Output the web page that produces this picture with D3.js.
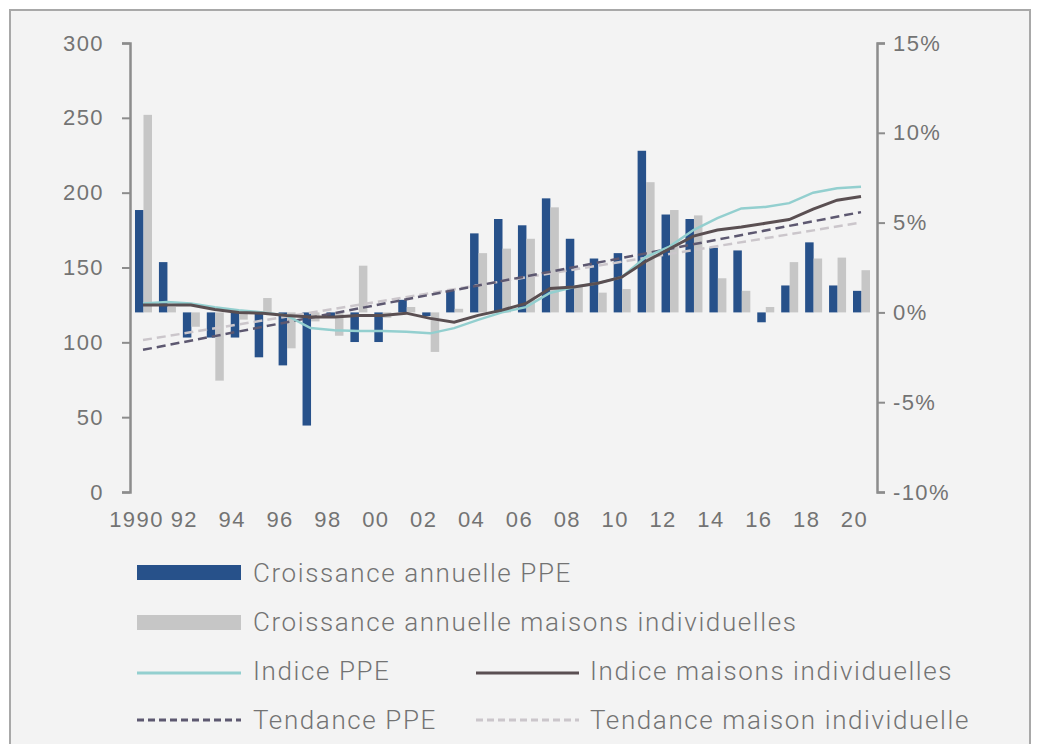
<!DOCTYPE html>
<html><head><meta charset="utf-8">
<script src="https://cdn.jsdelivr.net/npm/d3@7"></script>
<style>
html,body{margin:0;padding:0;background:#fff;}
svg{display:block;font-family:Roboto,"Open Sans",sans-serif;}
</style></head>
<body>
<svg id="chart" width="1046" height="744"></svg>
<script>
const years = [1990,1991,1992,1993,1994,1995,1996,1997,1998,1999,2000,2001,2002,2003,2004,2005,2006,2007,2008,2009,2010,2011,2012,2013,2014,2015,2016,2017,2018,2019,2020];
const croissancePPE = [5.7,2.8,-1.4,-1.4,-1.4,-2.5,-2.95,-6.3,-0.3,-1.65,-1.65,0.7,-0.2,1.2,4.4,5.2,4.85,6.35,4.1,3.0,3.3,9.0,5.45,5.2,3.6,3.45,-0.55,1.5,3.9,1.5,1.2];
const croissanceMaisons = [11.0,0.3,-0.8,-3.8,-0.4,0.8,-2.0,-0.5,-1.3,2.6,-0.3,0.3,-2.2,0.2,3.3,3.55,4.1,5.85,1.5,1.1,1.3,7.25,5.7,5.4,1.9,1.2,0.3,2.8,3.0,3.05,2.35];
const indicePPE = [126,127,126,123.5,121.5,120,118,109.5,108,107.5,107.5,107,106,109.5,115,120,123.5,133,137,139.5,143.5,157,164,175,183,189.5,190.5,193,200,203,204];
const indiceMaisons = [125,125,125,122,120,119.5,118,117,117,118,118,119.5,116,113.5,118,121.5,126,136,137,139.5,143.5,154,162.5,171,175,177,179.5,182,189,195,197.5];
const trendYears = [1990,2020];
const tendancePPE = [95,187];
const tendanceMaisons = [101.5,180];
const leftTicks = [0,50,100,150,200,250,300];
const rightTicks = [-10,-5,0,5,10,15];
const xTickYears = [1990,1992,1994,1996,1998,2000,2002,2004,2006,2008,2010,2012,2014,2016,2018,2020];
const xTickLabels = ["1990","92","94","96","98","00","02","04","06","08","10","12","14","16","18","20"];
const legendLabels = ["Croissance annuelle PPE","Croissance annuelle maisons individuelles","Indice PPE","Indice maisons individuelles","Tendance PPE","Tendance maison individuelle"];

const C = {ppeBar:"#27518a", maisBar:"#c6c6c6", ppeLine:"#93cfcf", maisLine:"#5a4f52", trendPPE:"#5d5870", trendMais:"#cbc6cb", axis:"#8c8c8c", text:"#737373"};

const svg = d3.select("#chart");
svg.append("rect").attr("x",10).attr("y",10).attr("width",1020).attr("height",760)
  .attr("fill","#f3f3f3").attr("stroke","#a8a8a8").attr("stroke-width",2);

const x = d3.scaleLinear().domain([1990,2020]).range([139,857]);
const yL = d3.scaleLinear().domain([0,300]).range([492,43]);
const yR = d3.scaleLinear().domain([-10,15]).range([492,43]);

// bars
const g = svg.append("g");
g.selectAll("rect.ppe").data(years).join("rect")
  .attr("x", d => x(d)-4).attr("width", 8.5)
  .attr("y", (d,i) => yR(Math.max(0,croissancePPE[i])))
  .attr("height", (d,i) => Math.abs(yR(croissancePPE[i]) - yR(0)))
  .attr("fill", C.ppeBar);
g.selectAll("rect.mais").data(years).join("rect")
  .attr("x", d => x(d)+4.5).attr("width", 8.5)
  .attr("y", (d,i) => yR(Math.max(0,croissanceMaisons[i])))
  .attr("height", (d,i) => Math.abs(yR(croissanceMaisons[i]) - yR(0)))
  .attr("fill", C.maisBar);

// lines
const line = vals => d3.line().x((d,i)=>x(d)+4).y((d,i)=>yL(vals[i]));
svg.append("path").datum(trendYears).attr("d", line(tendanceMaisons)).attr("fill","none")
  .attr("stroke",C.trendMais).attr("stroke-width",2.5).attr("stroke-dasharray","9,5");
svg.append("path").datum(trendYears).attr("d", line(tendancePPE)).attr("fill","none")
  .attr("stroke",C.trendPPE).attr("stroke-width",2.5).attr("stroke-dasharray","9,5");
svg.append("path").datum(years).attr("d", line(indicePPE)).attr("fill","none")
  .attr("stroke",C.ppeLine).attr("stroke-width",2.5);
svg.append("path").datum(years).attr("d", line(indiceMaisons)).attr("fill","none")
  .attr("stroke",C.maisLine).attr("stroke-width",3);

// axes
function styleAxis(sel){
  sel.select(".domain").attr("stroke",C.axis).attr("stroke-width",2.5);
  sel.selectAll(".tick line").attr("stroke",C.axis).attr("stroke-width",2);
  sel.selectAll(".tick text").attr("fill",C.text).style("font-size","22px").style("font-weight","400").style("letter-spacing","1.4px");
}
const axL = svg.append("g").attr("transform","translate(130,0)")
  .call(d3.axisLeft(yL).tickValues(leftTicks).tickSize(8).tickPadding(18).tickFormat(d3.format("d")));
styleAxis(axL);
const axR = svg.append("g").attr("transform","translate(877,0)")
  .call(d3.axisRight(yR).tickValues(rightTicks).tickSize(8).tickPadding(8).tickFormat(d => d + "%"));
styleAxis(axR);
const axX = svg.append("g").attr("transform","translate(-3,505)")
  .call(d3.axisBottom(x).tickValues(xTickYears).tickSize(0).tickPadding(6).tickFormat((d,i)=>xTickLabels[i]));
axX.select(".domain").remove();
axX.selectAll(".tick text").attr("fill",C.text).style("font-size","22px").style("font-weight","400").style("letter-spacing","1.4px");

// legend
const lg = svg.append("g").style("font-size","26px").style("font-weight","300").style("letter-spacing","1.6px").attr("fill",C.text);
lg.append("rect").attr("x",137).attr("y",565).attr("width",104).attr("height",15).attr("fill",C.ppeBar);
lg.append("text").attr("x",253).attr("y",573).attr("dominant-baseline","central").text(legendLabels[0]);
lg.append("rect").attr("x",137).attr("y",615).attr("width",104).attr("height",15).attr("fill",C.maisBar);
lg.append("text").attr("x",253).attr("y",622).attr("dominant-baseline","central").text(legendLabels[1]);
lg.append("line").attr("x1",137).attr("x2",241).attr("y1",673).attr("y2",673).attr("stroke",C.ppeLine).attr("stroke-width",3);
lg.append("text").attr("x",253).attr("y",671).attr("dominant-baseline","central").text(legendLabels[2]);
lg.append("line").attr("x1",476).attr("x2",579).attr("y1",673).attr("y2",673).attr("stroke",C.maisLine).attr("stroke-width",3);
lg.append("text").attr("x",590).attr("y",671).attr("dominant-baseline","central").text(legendLabels[3]);
lg.append("line").attr("x1",137).attr("x2",241).attr("y1",720).attr("y2",720).attr("stroke",C.trendPPE).attr("stroke-width",3).attr("stroke-dasharray","7,4");
lg.append("text").attr("x",253).attr("y",720).attr("dominant-baseline","central").text(legendLabels[4]);
lg.append("line").attr("x1",476).attr("x2",579).attr("y1",720).attr("y2",720).attr("stroke",C.trendMais).attr("stroke-width",3).attr("stroke-dasharray","7,4");
lg.append("text").attr("x",590).attr("y",720).attr("dominant-baseline","central").text(legendLabels[5]);
</script>
</body></html>
